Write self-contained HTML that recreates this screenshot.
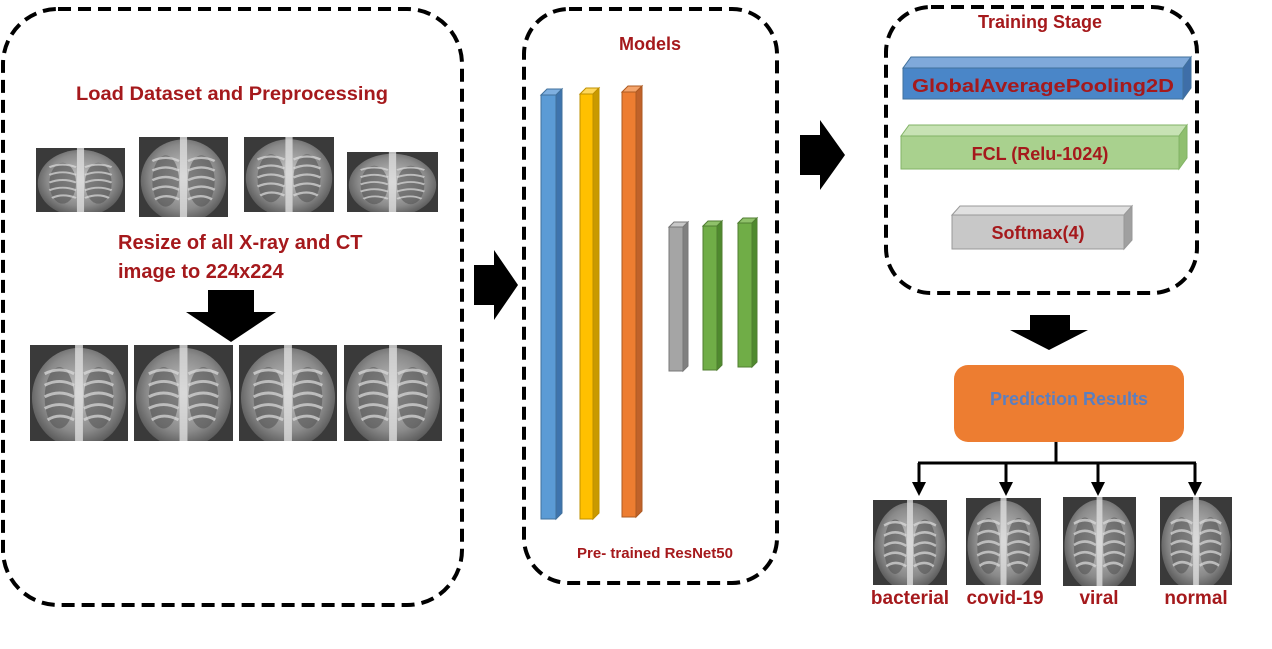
<!DOCTYPE html>
<html><head><meta charset="utf-8"><style>
html,body{margin:0;padding:0;background:#fff;}
svg{display:block;font-family:"Liberation Sans",sans-serif;}
.t{font-weight:bold;fill:#a5191c;}
</style></head><body>
<svg width="1272" height="649" viewBox="0 0 1272 649" xmlns="http://www.w3.org/2000/svg">
<defs>
<radialGradient id="lung" cx="0.5" cy="0.45" r="0.65">
<stop offset="0" stop-color="#c8c8c8"/><stop offset="0.6" stop-color="#8a8a8a"/><stop offset="1" stop-color="#3a3a3a"/>
</radialGradient>
<symbol id="xr" viewBox="0 0 100 100" preserveAspectRatio="none">
<rect width="100" height="100" fill="#3a3a3a"/>
<ellipse cx="50" cy="55" rx="48" ry="52" fill="url(#lung)"/>
<ellipse cx="30" cy="55" rx="15" ry="32" fill="#555" opacity="0.6"/>
<ellipse cx="70" cy="55" rx="15" ry="32" fill="#555" opacity="0.6"/>
<g stroke="#ddd" stroke-width="3" fill="none" opacity="0.7">
<path d="M15 30 Q30 22 45 30 M15 42 Q30 34 45 42 M15 54 Q30 46 45 54 M15 66 Q30 58 45 66 M18 78 Q30 70 45 78"/>
<path d="M55 30 Q70 22 85 30 M55 42 Q70 34 85 42 M55 54 Q70 46 85 54 M55 66 Q70 58 85 66 M55 78 Q70 70 82 78"/>
</g>
<rect x="46" y="0" width="8" height="100" fill="#ddd" opacity="0.8"/>
</symbol>
</defs>

<g fill="none" stroke="#000" stroke-width="4" stroke-dasharray="13 7">
<rect x="3" y="9" width="459" height="596" rx="55"/>
<rect x="524" y="9" width="253" height="574" rx="45"/>
<rect x="886" y="7" width="311" height="286" rx="45"/>
</g>

<text class="t" x="232" y="100" font-size="19" text-anchor="middle" textLength="312" lengthAdjust="spacingAndGlyphs">Load Dataset and Preprocessing</text>
<use href="#xr" x="36" y="148" width="89" height="64"/>
<use href="#xr" x="139" y="137" width="89" height="80"/>
<use href="#xr" x="244" y="137" width="90" height="75"/>
<use href="#xr" x="347" y="152" width="91" height="60"/>
<text class="t" x="118" y="249" font-size="20">Resize of all X-ray and CT</text>
<text class="t" x="118" y="278" font-size="20">image to 224x224</text>
<polygon points="208,290 254,290 254,312 276,312 231,342 186,312 208,312" fill="#000"/>
<use href="#xr" x="30" y="345" width="98" height="96"/>
<use href="#xr" x="134" y="345" width="99" height="96"/>
<use href="#xr" x="239" y="345" width="98" height="96"/>
<use href="#xr" x="344" y="345" width="98" height="96"/>

<polygon points="474,265 494,265 494,250 518,285 494,320 494,305 474,305" fill="#000"/>
<polygon points="800,135 820,135 820,120 845,155 820,190 820,175 800,175" fill="#000"/>
<polygon points="1030,315 1070,315 1070,330 1088,330 1049,350 1010,330 1030,330" fill="#000"/>

<text class="t" x="650" y="50" font-size="18" text-anchor="middle">Models</text>
<g stroke-width="1">
<polygon points="541,95 547,89 562,89 556,95" fill="#7fb0e0" stroke="#41719c"/>
<polygon points="556,95 562,89 562,513 556,519" fill="#3e74ad" stroke="#41719c"/>
<rect x="541" y="95" width="15" height="424" fill="#5b9bd5" stroke="#41719c"/>
<polygon points="580,94 586,88 599,88 593,94" fill="#ffd75a" stroke="#bf9000"/>
<polygon points="593,94 599,88 599,513 593,519" fill="#c99a00" stroke="#bf9000"/>
<rect x="580" y="94" width="13" height="425" fill="#ffc000" stroke="#bf9000"/>
<polygon points="622,92 628,86 642,86 636,92" fill="#f4a46b" stroke="#ae5a21"/>
<polygon points="636,92 642,86 642,511 636,517" fill="#c0622a" stroke="#ae5a21"/>
<rect x="622" y="92" width="14" height="425" fill="#ed7d31" stroke="#ae5a21"/>
<polygon points="669,227 674,222 688,222 683,227" fill="#c8c8c8" stroke="#787878"/>
<polygon points="683,227 688,222 688,366 683,371" fill="#808080" stroke="#787878"/>
<rect x="669" y="227" width="14" height="144" fill="#a5a5a5" stroke="#787878"/>
<polygon points="703,226 708,221 722,221 717,226" fill="#8fc16a" stroke="#507e32"/>
<polygon points="717,226 722,221 722,365 717,370" fill="#4f8a2e" stroke="#507e32"/>
<rect x="703" y="226" width="14" height="144" fill="#70ad47" stroke="#507e32"/>
<polygon points="738,223 743,218 757,218 752,223" fill="#8fc16a" stroke="#507e32"/>
<polygon points="752,223 757,218 757,362 752,367" fill="#4f8a2e" stroke="#507e32"/>
<rect x="738" y="223" width="14" height="144" fill="#70ad47" stroke="#507e32"/>
</g>
<text class="t" x="655" y="558" font-size="15" text-anchor="middle">Pre- trained ResNet50</text>

<text class="t" x="1040" y="28" font-size="18" text-anchor="middle">Training Stage</text>
<polygon points="903,68 911,57 1191,57 1183,68" fill="#7fa9da" stroke="#41719c"/>
<polygon points="1183,68 1191,57 1191,88 1183,99" fill="#3e6ea8" stroke="#41719c"/>
<rect x="903" y="68" width="280" height="31" fill="#4a86c8" stroke="#41719c"/>
<text class="t" x="1043" y="92" font-size="18" text-anchor="middle" textLength="262" lengthAdjust="spacingAndGlyphs">GlobalAveragePooling2D</text>
<polygon points="901,136 909,125 1187,125 1179,136" fill="#c7e2b4" stroke="#82b366"/>
<polygon points="1179,136 1187,125 1187,158 1179,169" fill="#8fbf6f" stroke="#82b366"/>
<rect x="901" y="136" width="278" height="33" fill="#a9d18e" stroke="#82b366"/>
<text class="t" x="1040" y="160" font-size="18" text-anchor="middle">FCL (Relu-1024)</text>
<polygon points="952,215 960,206 1132,206 1124,215" fill="#e0e0e0" stroke="#999"/>
<polygon points="1124,215 1132,206 1132,240 1124,249" fill="#a0a0a0" stroke="#999"/>
<rect x="952" y="215" width="172" height="34" fill="#c8c8c8" stroke="#999"/>
<text class="t" x="1038" y="239" font-size="18" text-anchor="middle">Softmax(4)</text>

<rect x="954" y="365" width="230" height="77" rx="14" fill="#ed7d31"/>
<text x="1069" y="405" font-size="18" font-weight="bold" fill="#5b7fc0" text-anchor="middle">Prediction Results</text>

<g stroke="#000" stroke-width="3" fill="none">
<path d="M1056 442 V463 M918 463 H1196 M919 463 V485 M1006 463 V485 M1098 463 V485 M1195 463 V485"/>
</g>
<g fill="#000">
<polygon points="912,482 926,482 919,496"/>
<polygon points="999,482 1013,482 1006,496"/>
<polygon points="1091,482 1105,482 1098,496"/>
<polygon points="1188,482 1202,482 1195,496"/>
</g>
<use href="#xr" x="873" y="500" width="74" height="85"/>
<use href="#xr" x="966" y="498" width="75" height="87"/>
<use href="#xr" x="1063" y="497" width="73" height="89"/>
<use href="#xr" x="1160" y="497" width="72" height="88"/>
<g class="t" font-size="19" text-anchor="middle">
<text x="910" y="604">bacterial</text>
<text x="1005" y="604">covid-19</text>
<text x="1099" y="604">viral</text>
<text x="1196" y="604">normal</text>
</g>
</svg>
</body></html>
